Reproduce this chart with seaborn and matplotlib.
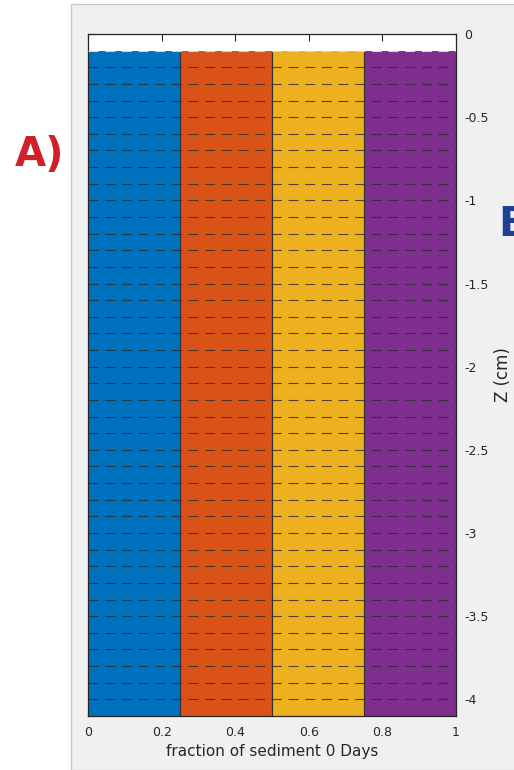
import numpy as np
import pandas as pd
import matplotlib
matplotlib.use("Agg")
import matplotlib.pyplot as plt
from matplotlib.patches import Rectangle
import seaborn as sns

# ---- data ----
components = ["c1", "c2", "c3", "c4"]
colors = ["#0072BD", "#D95319", "#EDB120", "#7E2F8E"]
fraction = [0.25, 0.25, 0.25, 0.25]          # fraction of each component per layer
layer_edges = [-0.1, -0.2, -0.3, -0.4, -0.5, -0.6, -0.7, -0.8, -0.9, -1.0,
               -1.1, -1.2, -1.3, -1.4, -1.5, -1.6, -1.7, -1.8, -1.9, -2.0,
               -2.1, -2.2, -2.3, -2.4, -2.5, -2.6, -2.7, -2.8, -2.9, -3.0,
               -3.1, -3.2, -3.3, -3.4, -3.5, -3.6, -3.7, -3.8, -3.9, -4.0, -4.1]
xticks = [0, 0.2, 0.4, 0.6, 0.8, 1]
xticklabels = ["0", "0.2", "0.4", "0.6", "0.8", "1"]
yticks = [0, -0.5, -1, -1.5, -2, -2.5, -3, -3.5, -4]
yticklabels = ["0", "-0.5", "-1", "-1.5", "-2", "-2.5", "-3", "-3.5", "-4"]

rows = []
for i in range(len(layer_edges) - 1):
    centre = (layer_edges[i] + layer_edges[i + 1]) / 2
    for c, f in zip(components, fraction):
        rows.append({"depth": centre, "component": c, "fraction": f})
df = pd.DataFrame(rows)

sns.set_theme(style="white")
plt.rcParams["font.family"] = ["DejaVu Sans"]
plt.rcParams["axes.unicode_minus"] = False

W, H = 514, 770
fig = plt.figure(figsize=(W / 100, H / 100), dpi=100)
fig.patch.set_facecolor("white")
# grey panel
panel = Rectangle((71 / W, 0), 1, 1 - 4 / H, transform=fig.transFigure,
                  facecolor="#f0f0f0", edgecolor="#c8c8c8", linewidth=1, zorder=-10)
fig.patches.append(panel)

ax = fig.add_axes([88 / W, 1 - 716 / H, 368 / W, (716 - 34) / H])
ax.set_zorder(5)
ax.set_facecolor("white")

bins = sorted(layer_edges)
# seaborn stacks the first hue level on the outside, so reverse the order
sns.histplot(data=df, y="depth", weights="fraction", hue="component",
             hue_order=components[::-1], palette=dict(zip(components, colors)),
             multiple="stack", bins=bins, linewidth=0, alpha=1, legend=False, ax=ax)

# solid vertical dividers between components
cum = np.cumsum(fraction)[:-1]
ax.vlines(cum, layer_edges[-1], layer_edges[0], colors="#333333", linewidth=0.9, zorder=3)
# dashed layer boundaries
ax.hlines(layer_edges[1:-1], 0, 1, colors="#2a2a2a", linewidth=0.8,
          linestyles=(0, (9, 6)), alpha=0.8, zorder=3)
ax.hlines([layer_edges[0]], 0, 1, colors="#c8d8e8", linewidth=0.8,
          linestyles=(0, (9, 6)), zorder=3)

ax.set_xlim(0, 1)
ax.set_ylim(-4.1, 0)
ax.set_xticks(xticks)
ax.set_xticklabels(xticklabels)
ax.set_yticks(yticks)
ax.set_yticklabels(yticklabels)
ax.yaxis.tick_right()
ax.yaxis.set_label_position("right")
ax.tick_params(axis="both", direction="in", length=5, width=0.8, color="#262626",
               labelsize=9, labelcolor="#262626", top=True, bottom=True,
               left=True, right=True)
ax.tick_params(axis="y", labelleft=False, labelright=True, pad=6)
ax.tick_params(axis="x", pad=7)
for s in ax.spines.values():
    s.set_color("#262626")
    s.set_linewidth(0.9)
    s.set_visible(True)
ax.set_xlabel("fraction of sediment 0 Days", fontsize=11, color="#262626", labelpad=4)
ax.set_ylabel("Z (cm)", fontsize=12, color="#262626", labelpad=4)

fig.text(40 / W, 1 - 155 / H, "A)", fontsize=29, fontweight="bold", color="#d0202a",
         ha="center", va="center")
fig.text(498 / W, 1 - 225 / H, "B", fontsize=29, fontweight="bold", color="#1f3f94",
         ha="left", va="center")

fig.savefig("out.png", dpi=100)
